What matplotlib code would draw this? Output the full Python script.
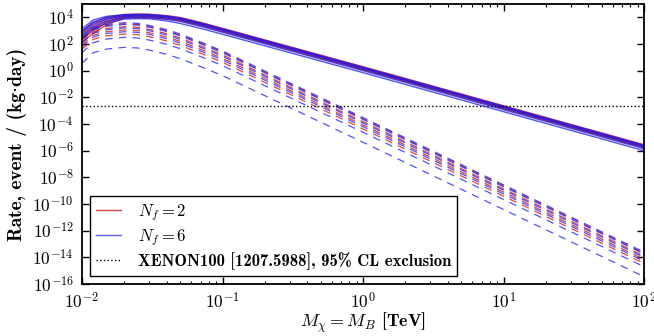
import matplotlib
matplotlib.use("Agg")
import matplotlib.pyplot as plt
import numpy as np
from matplotlib.lines import Line2D
from matplotlib.ticker import FixedLocator, FuncFormatter, NullLocator

# --------------------------------------------------------------------------- #
# Data (log10 of rate in events / (kg day))
# --------------------------------------------------------------------------- #
mass_tev = [0.01, 0.012, 0.015, 0.02, 0.025, 0.03, 0.04, 0.05, 0.07, 0.1, 1.0, 100.0]

solid_nf2 = [
  [2.95, 3.60, 4.00, 4.22, 4.25, 4.24, 4.13, 3.99, 3.62, 3.18, 0.30, -5.55],
  [2.75, 3.40, 3.86, 4.14, 4.17, 4.16, 4.06, 3.92, 3.55, 3.11, 0.23, -5.62],
  [2.55, 3.20, 3.72, 4.07, 4.10, 4.09, 3.99, 3.86, 3.49, 3.05, 0.17, -5.68],
  [2.35, 3.00, 3.60, 4.02, 4.05, 4.04, 3.94, 3.80, 3.43, 2.99, 0.11, -5.74],
  [2.15, 2.80, 3.46, 3.94, 3.97, 3.96, 3.87, 3.75, 3.38, 2.94, 0.06, -5.79],
]
solid_nf6 = [
  [3.15, 3.80, 4.08, 4.19, 4.22, 4.21, 4.10, 3.95, 3.58, 3.14, 0.26, -5.59],
  [3.00, 3.65, 3.98, 4.14, 4.17, 4.16, 4.04, 3.89, 3.52, 3.08, 0.20, -5.65],
  [2.85, 3.50, 3.88, 4.07, 4.10, 4.09, 3.97, 3.82, 3.45, 3.01, 0.13, -5.72],
  [2.65, 3.30, 3.73, 3.97, 4.00, 3.99, 3.86, 3.69, 3.32, 2.88, 0.00, -5.85],
  [2.45, 3.10, 3.58, 3.87, 3.90, 3.89, 3.73, 3.54, 3.17, 2.73, -0.15, -6.00],
]
dashed_nf2 = [
  [2.37, 3.12, 3.39, 3.52, 3.47, 3.32, 3.00, 2.67, 2.07, 1.40, -3.60, -13.68],
  [2.15, 2.90, 3.17, 3.30, 3.25, 3.10, 2.78, 2.45, 1.85, 1.18, -3.82, -13.90],
  [1.90, 2.65, 2.92, 3.05, 3.00, 2.85, 2.53, 2.20, 1.60, 0.93, -4.07, -14.15],
  [1.60, 2.35, 2.62, 2.75, 2.70, 2.55, 2.23, 1.90, 1.30, 0.63, -4.37, -14.45],
]
dashed_nf6 = [
  [2.45, 3.20, 3.47, 3.60, 3.55, 3.40, 3.08, 2.75, 2.15, 1.48, -3.52, -13.60],
  [2.31, 3.06, 3.33, 3.46, 3.41, 3.26, 2.94, 2.61, 2.01, 1.34, -3.66, -13.74],
  [2.05, 2.80, 3.07, 3.20, 3.15, 3.00, 2.68, 2.35, 1.75, 1.08, -3.92, -14.00],
  [1.77, 2.52, 2.79, 2.92, 2.87, 2.72, 2.40, 2.07, 1.47, 0.80, -4.20, -14.28],
  [1.35, 2.10, 2.37, 2.50, 2.45, 2.30, 1.98, 1.65, 1.05, 0.38, -4.62, -14.70],
  [0.55, 1.35, 1.62, 1.75, 1.70, 1.55, 1.23, 0.90, 0.30, -0.37, -5.37, -15.45],
]
xenon_limit = 2.2e-3

RED = (0.8, 0.1, 0.1)
BLUE = (0.1, 0.1, 0.95)
BOLD_SERIF = ["cmb10", "DejaVu Serif"]

plt.rcParams["mathtext.fontset"] = "cm"
plt.rcParams["font.family"] = ["DejaVu Serif"]

fig = plt.figure(figsize=(6.54, 3.36), dpi=100)
ax = fig.add_axes([82 / 654, 1 - 284 / 336, 562 / 654, 280 / 336])

for curve in solid_nf2:
  ax.plot(mass_tev, np.power(10.0, curve), color=RED, lw=1.0, alpha=0.8)
for curve in solid_nf6:
  ax.plot(mass_tev, np.power(10.0, curve), color=BLUE, lw=1.0, alpha=0.75)
for curve in dashed_nf2:
  ax.plot(mass_tev, np.power(10.0, curve), color=RED, lw=0.9, alpha=0.8,
          dashes=(6, 5))
for curve in dashed_nf6:
  ax.plot(mass_tev, np.power(10.0, curve), color=BLUE, lw=0.9, alpha=0.75,
          dashes=(6, 5))
ax.axhline(xenon_limit, color="black", lw=1.0, ls=":")

ax.set_xscale("log")
ax.set_yscale("log")
ax.set_xlim(1e-2, 1e2)
ax.set_ylim(1e-16, 1e5)

ax.yaxis.set_major_locator(FixedLocator([10.0 ** e for e in range(-16, 5, 2)]))
ax.yaxis.set_minor_locator(NullLocator())
fmt = FuncFormatter(lambda v, _: r"$10^{%d}$" % int(round(np.log10(v))))
ax.xaxis.set_major_formatter(fmt)
ax.yaxis.set_major_formatter(fmt)

ax.tick_params(which="both", direction="in", top=True, right=True, labelsize=12.5)
ax.tick_params(which="major", length=5, width=1.0, pad=6)
ax.tick_params(which="minor", length=2.5, width=0.8)
for sp in ax.spines.values():
  sp.set_linewidth(1.3)

ax.set_xlabel(r"$M_\chi = M_B$ [TeV]", fontsize=13, labelpad=-1)
ax.xaxis.label.set_fontfamily(BOLD_SERIF)
ax.set_ylabel("Rate, event / (kg\u00b7day)", fontsize=14, labelpad=4,
              family=BOLD_SERIF)

handles = [
  Line2D([], [], color=RED, lw=1.0, alpha=0.8),
  Line2D([], [], color=BLUE, lw=1.0, alpha=0.7),
  Line2D([], [], color="black", lw=1.0, ls=":"),
]
labels = [
  r"$N_f = 2$",
  r"$N_f = 6$",
  "XENON100 [1207.5988], 95% CL exclusion",
]
leg = ax.legend(handles, labels, loc="lower left", fontsize=12,
                handlelength=1.5, handletextpad=1.0, labelspacing=0.25,
                borderpad=0.35, fancybox=False, framealpha=1.0,
                borderaxespad=0.5)
leg.get_texts()[2].set_fontfamily(BOLD_SERIF)
leg.get_frame().set_edgecolor("black")
leg.get_frame().set_linewidth(1.0)

fig.savefig("out.png", dpi=100)
